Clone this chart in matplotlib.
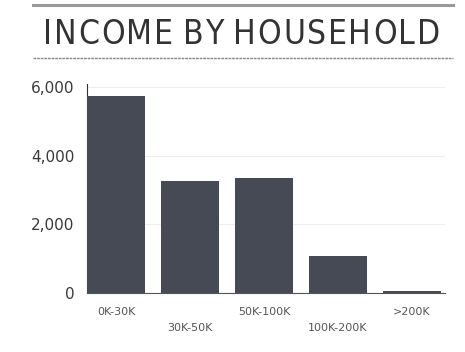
import matplotlib
matplotlib.use("Agg")
import matplotlib.pyplot as plt
from matplotlib.lines import Line2D

# data
categories = ["0K-30K", "30K-50K", "50K-100K", "100K-200K", ">200K"]
households = [5750, 3250, 3350, 1080, 60]
y_ticks = [0, 2000, 4000, 6000]
y_tick_labels = ["0", "2,000", "4,000", "6,000"]
title = "INCOME BY HOUSEHOLD"

W, H = 465, 352
fig = plt.figure(figsize=(W/100, H/100), dpi=100)
fig.patch.set_facecolor("white")

# title band with rules above and below
fig.add_artist(Line2D([33/W, 453/W], [1-5/H, 1-5/H], color="#9a9a9a", lw=2.2))
fig.add_artist(Line2D([33/W, 453/W], [1-58/H, 1-58/H], color="#888888", lw=1.0, ls=(0, (2, 0.6))))

# letter-spaced title: place every character separately
renderer = fig.canvas.get_renderer()
font = dict(fontsize=24, color="#333333", family="DejaVu Sans",
            fontstretch="condensed", fontweight="normal")
widths = []
for ch in title:
    if ch == " ":
        widths.append(6)
        continue
    t = fig.text(0, 0, ch, **font)
    widths.append(t.get_window_extent(renderer).width)
    t.remove()
left, right = 43, 440
gap = (right - left - sum(widths)) / (len(title) - 1)
xpos = left
for ch, w in zip(title, widths):
    if ch != " ":
        fig.text(xpos/W, 1-34/H, ch, ha="left", va="center", **font)
    xpos += w + gap

ax = fig.add_axes([87/W, 1-293/H, (445-87)/W, (293-83.6)/H])
x = range(len(categories))
ax.bar(x, households, width=0.79, color="#464a54", zorder=3)

ax.set_xlim(-0.395, 4.45)
ax.set_ylim(0, 6100)
ax.set_yticks(y_ticks)
ax.set_yticklabels(y_tick_labels, fontsize=11, color="#3a3a3a")
ax.yaxis.grid(True, color="#eeeeee", lw=0.8, zorder=0)
ax.tick_params(axis="y", length=0, pad=9)

# staggered category labels
ax.set_xticks(list(x))
ax.set_xticklabels([])
ax.tick_params(axis="x", length=0)
for i, lab in enumerate(categories):
    ypos = -0.09 if i % 2 == 0 else -0.167
    ax.text(i, ypos, lab, transform=ax.get_xaxis_transform(), ha="center",
            va="center", fontsize=8, color="#555555")

for side in ["top", "right"]:
    ax.spines[side].set_visible(False)
ax.spines["left"].set_color("#333333")
ax.spines["left"].set_linewidth(0.8)
ax.spines["bottom"].set_color("#555555")
ax.spines["bottom"].set_linewidth(0.8)

fig.savefig("out.png", dpi=100)
